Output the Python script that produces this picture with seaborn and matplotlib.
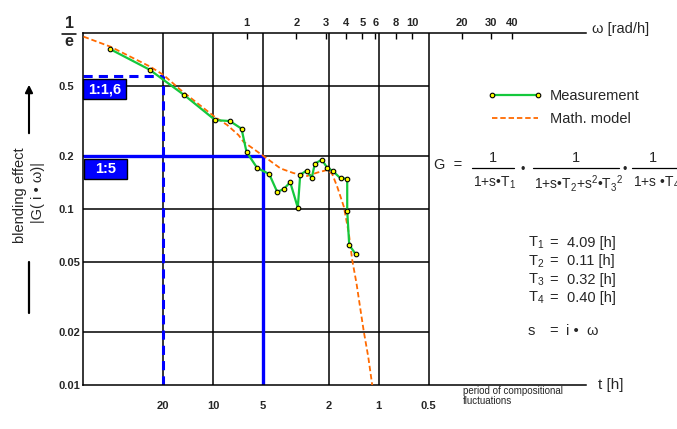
import numpy as np
import pandas as pd
import matplotlib
matplotlib.use("Agg")
import matplotlib.pyplot as plt
import seaborn as sns
from matplotlib.ticker import NullLocator
from matplotlib.lines import Line2D
from matplotlib.patches import Rectangle

# ---------------- data ----------------
omega_meas = [0.151, 0.260, 0.422, 0.647, 0.793, 0.933, 1.000, 1.160, 1.371, 1.532,
              1.680, 1.835, 2.040, 2.109, 2.302, 2.478, 2.584, 2.848, 3.069, 3.304,
              3.692, 4.053, 4.053, 4.168, 4.566]
g_meas = [0.808, 0.619, 0.443, 0.320, 0.316, 0.286, 0.211, 0.171, 0.158, 0.125,
          0.130, 0.142, 0.1017, 0.1566, 0.165, 0.1506, 0.181, 0.1906, 0.1717, 0.165,
          0.1494, 0.1487, 0.0978, 0.0624, 0.0553]

omega_model = [0.104, 0.151, 0.263, 0.316, 0.400, 0.632, 0.765, 0.895, 0.959, 1.266,
               1.604, 1.921, 2.324, 2.671, 3.069, 3.290, 3.527, 3.866, 4.144, 4.345,
               4.611, 4.875, 5.104, 5.427, 5.737]
g_model = [0.953, 0.836, 0.643, 0.577, 0.475, 0.338, 0.300, 0.263, 0.241, 0.200,
           0.170, 0.160, 0.154, 0.161, 0.1666, 0.158, 0.1339, 0.1031, 0.0728, 0.0513,
           0.0378, 0.0267, 0.0201, 0.01448, 0.0100]

omega_ticks = [1, 2, 3, 4, 5, 6, 8, 10, 20, 30, 40]
omega_tick_labels = ["1", "2", "3", "4", "5", "6", "8", "10", "20", "30", "40"]
period_ticks = [20, 10, 5, 2, 1, 0.5]
period_tick_labels = ["20", "10", "5", "2", "1", "0.5"]
y_ticks = [0.01, 0.02, 0.05, 0.1, 0.2, 0.5]
y_tick_labels = ["0.01", "0.02", "0.05", "0.1", "0.2", "0.5"]

ratio_levels = [0.572, 0.2]
ratio_periods = [20, 5]
ratio_labels = ["1:1,6", "1:5"]

T_names = ["T_1", "T_2", "T_3", "T_4"]
T_values = ["4.09", "0.11", "0.32", "0.40"]

series_names = ["Measurement", "Math. model"]

# ---------------- style ----------------
sns.set_theme(style="white")
plt.rcParams["font.family"] = ["Liberation Sans", "DejaVu Sans"]
plt.rcParams["mathtext.fontset"] = "custom"
plt.rcParams["mathtext.rm"] = "Liberation Sans"
plt.rcParams["mathtext.it"] = "Liberation Sans"
plt.rcParams["mathtext.bf"] = "Liberation Sans:bold"
plt.rcParams["mathtext.default"] = "regular"

W, H = 677, 429
fig = plt.figure(figsize=(W / 100, H / 100), dpi=100)
fig.patch.set_facecolor("white")


def fx(x):
    return x / W


def fy(y):
    return 1 - y / H


ax = fig.add_axes([fx(83), fy(385), (586 - 83) / W, (385 - 33) / H])
ax.set_facecolor("white")
ax.set_xscale("log")
ax.set_yscale("log")
ax.set_xlim(0.1031, 111.9)
ax.set_ylim(0.01, 1.0)

omega_grid = [2 * np.pi / t for t in period_ticks]

# grid
ax.hlines(y_ticks[1:], ax.get_xlim()[0], max(omega_grid), color="black", lw=1.1, zorder=1)
ax.vlines(omega_grid, 0.01, 1.0, color="black", lw=1.1, zorder=1)

# ratio guide lines
xmin = ax.get_xlim()[0]
for lvl, per, style, lw in zip(ratio_levels, ratio_periods, [(0, (3, 2)), "-"], [2.2, 2.4]):
    w = 2 * np.pi / per
    ax.hlines(lvl, xmin, w, color="#0000ff", lw=lw, linestyles=[style], zorder=2)
    ax.vlines(w, 0.01, lvl, color="#0000ff", lw=lw, linestyles=[style], zorder=2)

df_meas = pd.DataFrame({"omega": omega_meas, "G": g_meas})
df_model = pd.DataFrame({"omega": omega_model, "G": g_model})

sns.lineplot(data=df_meas, x="omega", y="G", ax=ax, estimator=None, sort=False,
             color="#14c83c", lw=1.6, marker="o", markersize=3.3,
             markerfacecolor="#ffff00", markeredgecolor="black", markeredgewidth=0.8,
             label=series_names[0], zorder=4)
sns.lineplot(data=df_model, x="omega", y="G", ax=ax, estimator=None, sort=False,
             color="#ff6a00", lw=1.3, dashes=False, label=series_names[1], zorder=3)
ax.lines[-1].set_linestyle((0, (3, 1.6)))

# spines
for s in ["left", "top", "bottom"]:
    ax.spines[s].set_visible(True)
    ax.spines[s].set_color("black")
    ax.spines[s].set_linewidth(1.1)
ax.spines["right"].set_visible(False)

# y ticks
ax.yaxis.set_minor_locator(NullLocator())
ax.set_yticks(y_ticks)
ax.set_yticklabels(y_tick_labels, fontsize=8, fontweight="bold", ha="left")
ax.tick_params(axis="y", length=0, pad=17.5)

# bottom ticks (period)
ax.xaxis.set_minor_locator(NullLocator())
ax.set_xticks(omega_grid)
ax.set_xticklabels(period_tick_labels, fontsize=8, fontweight="bold")
ax.tick_params(axis="x", length=0, pad=11.5)
ax.set_xlabel("")
ax.set_ylabel("")

# top ticks (omega)
sec = ax.secondary_xaxis("top")
sec.xaxis.set_minor_locator(NullLocator())
sec.set_xticks(omega_ticks)
sec.set_xticklabels(omega_tick_labels, fontsize=8, fontweight="bold")
sec.tick_params(axis="x", direction="in", length=4, width=1, pad=3.5, color="black")
sec.spines["top"].set_visible(False)

# legend
leg = ax.legend(loc="upper left", bbox_to_anchor=(fx(488), fy(89.5)),
                bbox_transform=fig.transFigure, frameon=False, fontsize=10.5,
                handlelength=3.7, handletextpad=0.55, labelspacing=0.6,
                borderpad=0, borderaxespad=0, numpoints=2)

# axis titles
fig.text(fx(592), fy(29), "ω [rad/h]", fontsize=10.5, ha="left", va="center")
fig.text(fx(598), fy(385), "t [h]", fontsize=11, ha="left", va="center")
fig.text(fx(463), fy(396), "period of compositional\nfluctuations", fontsize=7,
         ha="left", va="center", linespacing=0.95)

# 1/e
fig.text(fx(69), fy(24), "1", fontsize=11.5, fontweight="bold", ha="center", va="center")
fig.add_artist(Line2D([fx(62), fx(76)], [fy(33.5), fy(33.5)], color="black", lw=1.1,
                      transform=fig.transFigure))
fig.text(fx(69), fy(42), "e", fontsize=11.5, fontweight="bold", ha="center", va="center")

# y-axis label
fig.text(fx(20), fy(195), "blending effect", rotation=90, fontsize=10.5,
         ha="center", va="center")
fig.text(fx(38), fy(193), "|G( i • ω)|", rotation=90, fontsize=10.5,
         ha="center", va="center")
ax.annotate("", xy=(29, H - 82), xytext=(29, H - 136), xycoords="figure pixels",
            textcoords="figure pixels",
            arrowprops=dict(arrowstyle="-|>", color="black", lw=1.5, mutation_scale=11))
fig.add_artist(Line2D([fx(29), fx(29)], [fy(262), fy(313)], color="black", lw=1.6,
                      transform=fig.transFigure))

# ratio boxes
for lbl, (bx0, by0) in zip(ratio_labels, [(83, 79), (84, 159)]):
    fig.add_artist(Rectangle((fx(bx0), fy(by0 + 20)), 43 / W, 20 / H, facecolor="#0000ff",
                             edgecolor="black", lw=1.0, transform=fig.transFigure, zorder=5))
    fig.text(fx(bx0 + 21.5), fy(by0 + 10), lbl, color="white", fontsize=10.5,
             fontweight="bold", ha="center", va="center", zorder=6)

# equation
eq_fs = 10.5
den_fs = 10
fig.text(fx(434), fy(165), "G  =", fontsize=eq_fs, ha="left", va="center")
fracs = [(472, 514, 493, r"$1{+}s$•$T_1$"),
         (533, 619, 576, r"$1{+}s$•$T_2{+}s^2$•$T_3{}^2$"),
         (632, 700, 653, r"$1{+}s\ $•$T_4$")]
for x0, x1, xc, den in fracs:
    fig.text(fx(xc), fy(158), "1", fontsize=eq_fs, ha="center", va="center")
    fig.add_artist(Line2D([fx(x0), fx(x1)], [fy(168), fy(168)], color="black", lw=0.9,
                          transform=fig.transFigure))
    fig.text(fx(x0 + 1), fy(183), den, fontsize=den_fs, ha="left", va="center")
for xd in [523, 625]:
    fig.text(fx(xd), fy(170), "•", fontsize=9, ha="center", va="center")

for i, (tn, tv) in enumerate(zip(T_names, T_values)):
    yy = 243 + i * 18.3
    fig.text(fx(528), fy(yy), r"$%s$" % tn, fontsize=eq_fs, ha="left", va="center")
    fig.text(fx(549), fy(yy), "=", fontsize=eq_fs, ha="left", va="center")
    fig.text(fx(567), fy(yy), "%s [h]" % tv, fontsize=eq_fs, ha="left", va="center")

fig.text(fx(528), fy(331), "s", fontsize=eq_fs, ha="left", va="center")
fig.text(fx(549), fy(331), "=", fontsize=eq_fs, ha="left", va="center")
fig.text(fx(566), fy(331), "i •  ω", fontsize=eq_fs, ha="left", va="center")

fig.savefig("out.png", dpi=100)
